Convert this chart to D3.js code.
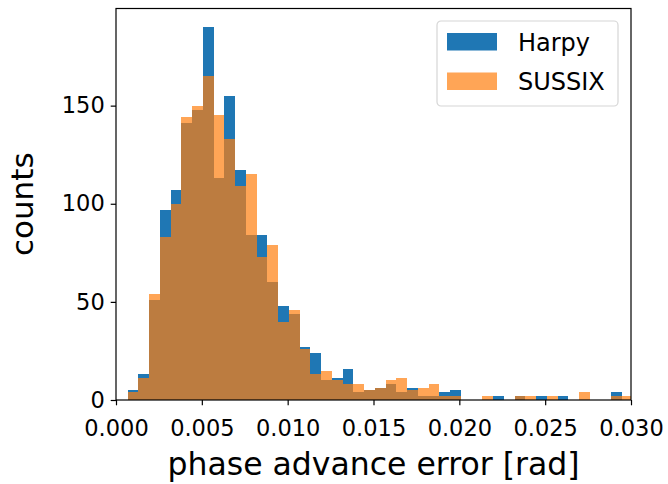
<!DOCTYPE html>
<html>
<head>
<meta charset="utf-8">
<script src="https://cdn.jsdelivr.net/npm/d3@7"></script>
<style>
body { margin: 0; background: #fff; }
text { font-family: "DejaVu Sans", sans-serif; fill: #000; }
</style>
</head>
<body>
<svg id="hist"></svg>
<script>
// histogram bins (rad)
var binStart = 0.00067;
var binWidth = 0.0006265;

// counts per bin
var harpyCounts = [5,13,51,97,107,141,148,190,113,155,117,84,84,60,48,44,27,24,10,11,16,4,5,6,8,4,6,2,2,4,5,0,0,0,2,0,2,0,2,0,2,0,0,0,0,4,0];
var sussixCounts = [4,11,54,83,100,144,150,165,145,133,109,115,73,79,40,46,26,13,15,10,8,8,5,6,10,11,5,6,8,2,2,0,0,2,0,0,2,2,0,2,0,0,4,0,0,2,2];

var seriesNames = ["Harpy", "SUSSIX"];
var xTicks = [0, 0.005, 0.010, 0.015, 0.020, 0.025, 0.030];
var yTicks = [0, 50, 100, 150];

// turns counts into bin objects
var makeBins = function(counts)
{
    return counts.map(function(c, i)
    {
        return {x0: binStart + i*binWidth, x1: binStart + (i+1)*binWidth, count: c};
    });
}

var drawHist = function(target)
{
    var screen = {width:668, height:484};
    var margins = {top:8.5, bottom:84, left:116, right:37};
    var graph =
    {
        width: screen.width - margins.left - margins.right,
        height: screen.height - margins.top - margins.bottom
    };

    var svg = d3.select(target)
        .attr("width", screen.width)
        .attr("height", screen.height);

    var xScale = d3.scaleLinear()
        .domain([0, 0.03])
        .range([0, graph.width]);

    var yScale = d3.scaleLinear()
        .domain([0, d3.max(harpyCounts.concat(sussixCounts))*1.05])
        .range([graph.height, 0]);

    svg.append("clipPath")
        .attr("id", "plotclip")
        .append("rect")
        .attr("width", graph.width)
        .attr("height", graph.height);

    var g = svg.append("g")
        .attr("transform", "translate(" + margins.left + "," + margins.top + ")");

    var bars = g.append("g").attr("clip-path", "url(#plotclip)");

    // Harpy first, SUSSIX on top with transparency
    var drawSeries = function(counts, color, alpha)
    {
        bars.append("g")
            .selectAll("rect")
            .data(makeBins(counts).filter(function(b) { return b.count > 0; }))
            .enter()
            .append("rect")
            .attr("x", function(b) { return xScale(b.x0); })
            .attr("width", function(b) { return xScale(b.x1) - xScale(b.x0); })
            .attr("y", function(b) { return yScale(b.count); })
            .attr("height", function(b) { return yScale(0) - yScale(b.count); })
            .attr("fill", color)
            .attr("fill-opacity", alpha)
            .attr("shape-rendering", "crispEdges");
    }
    drawSeries(harpyCounts, "#1f77b4", 1);
    drawSeries(sussixCounts, "#ff7f0e", 0.7);

    // axes
    var xAxis = d3.axisBottom(xScale)
        .tickValues(xTicks)
        .tickFormat(d3.format(".3f"))
        .tickSize(5.3)
        .tickPadding(15);
    var yAxis = d3.axisLeft(yScale)
        .tickValues(yTicks)
        .tickSize(5.3)
        .tickPadding(6);

    var xg = g.append("g")
        .attr("transform", "translate(0," + graph.height + ")")
        .call(xAxis);
    var yg = g.append("g").call(yAxis);

    [xg, yg].forEach(function(a)
    {
        a.select(".domain").remove();
        a.selectAll("line").attr("stroke", "#000").attr("stroke-width", 1.2);
        a.selectAll("text").style("font-size", "22.5px").attr("fill", "#000");
    });

    // frame
    g.append("rect")
        .attr("width", graph.width)
        .attr("height", graph.height)
        .attr("fill", "none")
        .attr("stroke", "#000")
        .attr("stroke-width", 1.2);

    // axis labels
    svg.append("text")
        .attr("x", margins.left + graph.width/2)
        .attr("y", 475)
        .attr("text-anchor", "middle")
        .style("font-size", "31.5px")
        .text("phase advance error [rad]");

    svg.append("text")
        .attr("transform", "translate(33," + (margins.top + graph.height/2) + ") rotate(-90)")
        .attr("text-anchor", "middle")
        .style("font-size", "31px")
        .text("counts");

    // legend
    var legend = svg.append("g").attr("transform", "translate(437,21)");
    legend.append("rect")
        .attr("width", 181)
        .attr("height", 85)
        .attr("rx", 4)
        .attr("fill", "#fff")
        .attr("fill-opacity", 0.8)
        .attr("stroke", "#d6d6d6")
        .attr("stroke-width", 1.2);

    var colors = ["#1f77b4", "#ff7f0e"];
    var alphas = [1, 0.7];
    seriesNames.forEach(function(name, i)
    {
        var row = legend.append("g").attr("transform", "translate(0," + (21 + i*39.5) + ")");
        row.append("rect")
            .attr("x", 10)
            .attr("y", -9)
            .attr("width", 50)
            .attr("height", 17.5)
            .attr("fill", colors[i])
            .attr("fill-opacity", alphas[i]);
        row.append("text")
            .attr("x", 81)
            .attr("y", 8.5)
            .style("font-size", "24px")
            .text(name);
    });
}

drawHist("#hist");
</script>
</body>
</html>
